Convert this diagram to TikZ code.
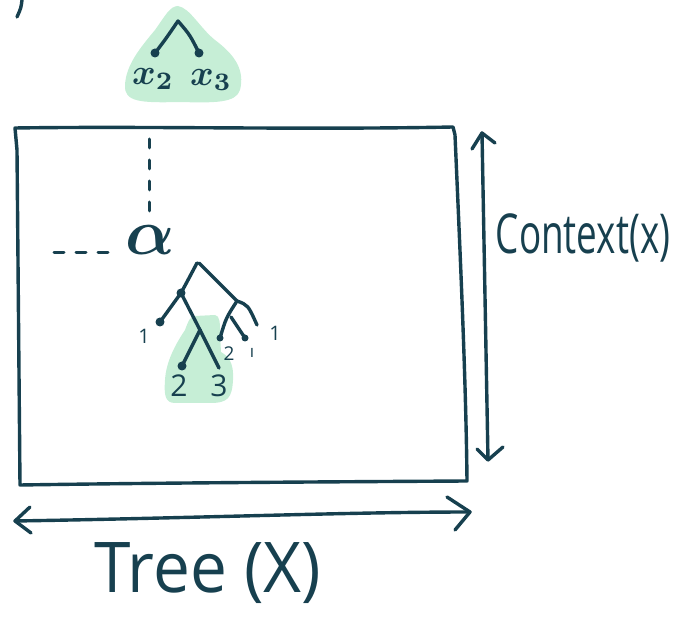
\documentclass[tikz,border=0pt]{standalone}
\usepackage{bm}
\usepackage{fontspec}
\setmainfont{Open Sans}
\usetikzlibrary{calc}
\definecolor{ink}{HTML}{17404F}
\definecolor{hl}{HTML}{C6EED6}
\begin{document}
\begin{tikzpicture}[x=1pt,y=-1pt,
  pen/.style={draw=ink,line width=3.4pt,line cap=round,line join=round},
  dot/.style={circle,fill=ink,inner sep=0pt,minimum size=9pt},
  hand/.style={text=ink,inner sep=0pt},
  dashline/.style={draw=ink,line width=3pt,line cap=round,dash pattern=on 9pt off 12pt}]
\useasboundingbox (0,0) rectangle (673,617);

% fragment top-left
\draw[pen] (22,0) .. controls (21,8) .. (17,17);

% top highlight
\fill[hl] (178,6) .. controls (190,8) and (200,28) .. (215,40)
  .. controls (235,55) and (245,70) .. (240,90)
  .. controls (236,103) and (215,103) .. (180,102)
  .. controls (140,103) and (124,102) .. (125,85)
  .. controls (126,65) and (140,48) .. (155,30)
  .. controls (165,16) and (170,6) .. (178,6) -- cycle;
\coordinate (ta) at (178,21);
\node[dot] (tl) at (155,53) {};
\node[dot] (tr) at (199,53) {};
\draw[pen] (tl.center) .. controls (165,40) .. (ta) .. controls (190,35) .. (tr.center);
\node[hand] (x2) at (153,79) {\scalebox{3.6}{$\bm{x}_{\bm{2}}$}};
\node[hand] (x3) at (211,80) {\scalebox{3.6}{$\bm{x}_{\bm{3}}$}};

% main rectangle
\draw[pen] (17,150) -- (15,128) .. controls (150,126) and (300,130) .. (453,127)
  -- (455,135) .. controls (460,250) and (466,380) .. (467,481)
  .. controls (300,482) and (150,483) .. (20,485) -- (17,150);

% dashed guides
\coordinate (dv1) at (149,139);
\coordinate (dv2) at (149,222);
\draw[dashline] (dv1) -- (dv2);
\coordinate (dh1) at (54,253);
\coordinate (dh2) at (113,253);
\draw[dashline,dash pattern=on 10pt off 12pt] (dh1) -- (dh2);

% alpha
\node[hand] (al) at (150,240) {\scalebox{6.5}{$\bm{\alpha}$}};

% lower highlight
\fill[hl] (195,316) -- (215,315) .. controls (220,316) and (220,322) .. (220,335)
  -- (221,352) .. controls (228,356) and (234,362) .. (233,380)
  .. controls (232,398) and (228,403) .. (210,403)
  -- (175,403) .. controls (165,403) and (164,395) .. (165,380)
  .. controls (166,362) and (175,345) .. (185,330) .. controls (188,322) and (190,316) .. (195,316) -- cycle;

% tree
\coordinate (root) at (197,263);
\node[dot] (n1) at (181,293) {};
\node[dot] (l1) at (160,322) {};
\coordinate (n2) at (200,330);
\node[dot] (l2) at (182,366) {};
\coordinate (l3) at (219,368);
\coordinate (n3) at (237,301);
\node[dot,minimum size=7pt] (l4) at (220,338) {};
\coordinate (n4) at (231,317);
\node[dot,minimum size=7pt] (l5) at (245,338) {};
\coordinate (l6) at (257,325);

\draw[pen] (root) .. controls (188,280) .. (n1.center);
\draw[pen] (n1.center) -- (l1.center);
\draw[pen] (n1.center) -- (n2) -- (l2.center);
\draw[pen] (n2) -- (l3);
\draw[pen] (199,263) -- (n3);
\draw[pen] (n3) .. controls (226,318) .. (l4.center);
\draw[pen] (n3) .. controls (248,305) .. (l6);
\draw[pen] (n4) -- (l5.center);

% leaf labels
\node[hand,font=\fontsize{20}{20}\selectfont] (c1) at (144,336) {1};
\node[hand,font=\fontsize{20}{20}\selectfont] (c2) at (275,333) {1};
\node[hand,font=\fontsize{19}{19}\selectfont] (c3) at (229,354) {2};
\node[hand,font=\fontsize{17}{17}\selectfont] (c4) at (252,353) {ı};
\node[hand,font=\fontsize{30}{30}\selectfont] (c5) at (179,386) {2};
\node[hand,font=\fontsize{30}{30}\selectfont] (c6) at (219,386) {3};

% vertical arrow
\coordinate (vt) at (482,133);
\coordinate (vb) at (488,460);
\draw[pen] (vt) -- (vb);
\draw[pen] (472,149) -- (vt) -- (495,143);
\draw[pen] (477,449) -- (vb) -- (503,447);
\node[hand,font=\fontsize{55}{55}\selectfont] (ctx) at (583,238) {\scalebox{0.67}[1]{Context(x)}};

% horizontal arrow
\coordinate (hl1) at (15,521);
\coordinate (hr1) at (470,512);
\draw[pen] (hl1) .. controls (200,518) and (350,512) .. (hr1);
\draw[pen] (30,507) -- (hl1) -- (31,533);
\draw[pen] (447,497) -- (hr1) -- (455,530);
\node[hand,font=\fontsize{70}{70}\selectfont] (tree) at (208,573) {\scalebox{0.94}[1]{Tree (X)}};
\end{tikzpicture}
\end{document}
